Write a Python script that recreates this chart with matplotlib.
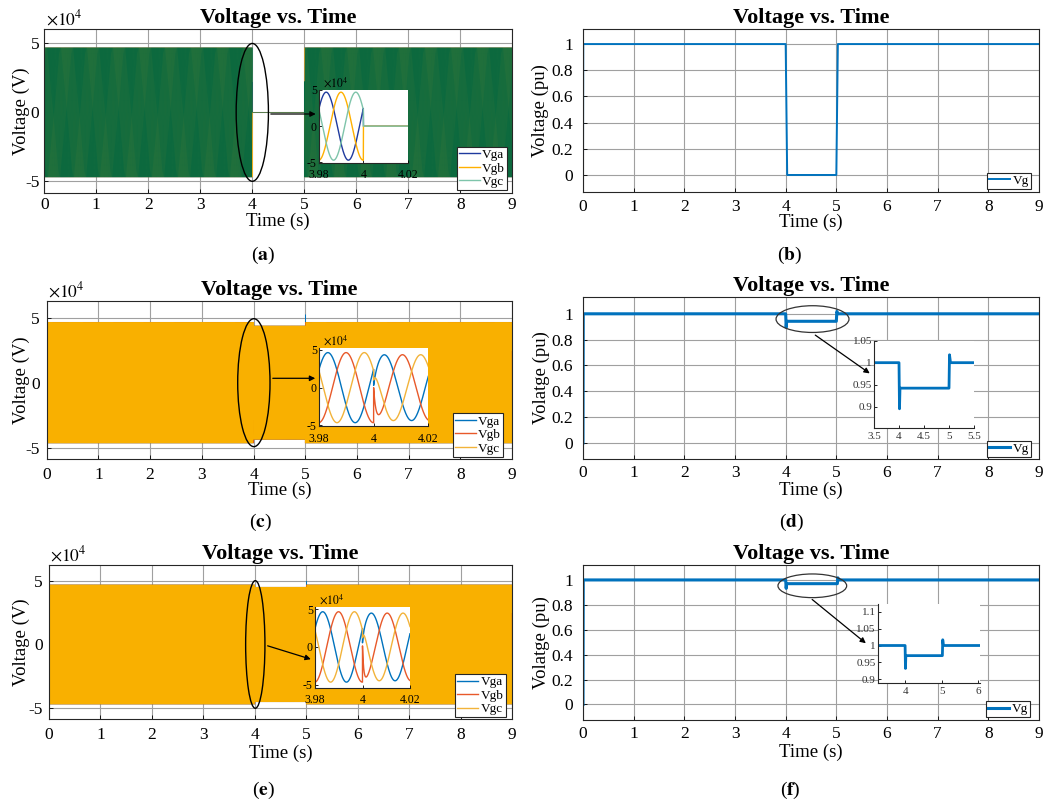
import numpy as np
import matplotlib
matplotlib.use("Agg")
import matplotlib.pyplot as plt
from matplotlib.patches import Ellipse, FancyArrowPatch
from matplotlib.ticker import FuncFormatter

plt.rcParams['font.family'] = ['Liberation Serif', 'DejaVu Serif']
plt.rcParams['mathtext.fontset'] = 'stix'
plt.rcParams['axes.unicode_minus'] = False

# ---- data ----
FREQ = 50.0            # Hz
FAULT_ON = 4.0         # s
FAULT_OFF = 5.0        # s
PHASE_A = 0.55         # rad, phase of Vga at t = 0

# peak voltage (V): [normal, during fault]
AMP_A = [4.7e4, 0.0]
AMP_C = [4.65e4, 4.37e4]
AMP_E = [4.68e4, 4.5e4]
# phase jump during the fault (rad)
SHIFT_C = -0.2
SHIFT_E = -0.15
# step on Vga, Vgb, Vgc right after the fault starts (V) and its decay (s)
JUMP_C = [-1.2e4, 4.3e4, -1.8e4]
JUMP_E = [-1.2e4, 4.6e4, -1.5e4]
TAU_C = 0.0008
TAU_E = 0.0005
# Vga overshoot when the fault clears (V)
KICK_C = 1.6e4
KICK_E = 0.8e4

# grid voltage magnitude (pu)
VG_B_T = [0, 0.005, 4.0, 4.03, 5.0, 5.03, 9.0]
VG_B_V = [0, 1.0, 1.0, 0.0, 0.0, 1.0, 1.0]
VG_D_T = [0, 0.005, 4.0, 4.01, 4.02, 5.0, 5.01, 5.03, 9.0]
VG_D_V = [0, 1.0, 1.0, 0.895, 0.942, 0.942, 1.018, 1.0, 1.0]
VG_F_T = [0, 0.005, 4.0, 4.01, 4.02, 5.02, 5.03, 5.05, 9.0]
VG_F_V = [0, 1.0, 1.0, 0.932, 0.97, 0.97, 1.017, 1.0, 1.0]

PHASES = ['Vga', 'Vgb', 'Vgc']


def three_phase(t, amp, shift=0.0, jump=(0, 0, 0), tau=1e-3, kick=0.0):
    inside = (t >= FAULT_ON) & (t < FAULT_OFF)
    d_on = np.clip(t - FAULT_ON, 0, None)
    d_off = np.clip(t - FAULT_OFF, 0, None)
    out = []
    for k, off in enumerate([0.0, -2 * np.pi / 3, 2 * np.pi / 3]):
        ph = 2 * np.pi * FREQ * t + PHASE_A + off
        v = np.where(inside, amp[1] * np.sin(ph + shift) + jump[k] * np.exp(-d_on / tau),
                     amp[0] * np.sin(ph))
        if k == 0:
            v = v + np.where(t >= FAULT_OFF, kick * np.exp(-d_off / 0.003), 0.0)
        out.append(v)
    return out


t_main = np.arange(0, 9.0, 1 / 5000.0)
t_zoom = np.linspace(3.98, 4.02, 4001)

W, H = 1047, 800
fig = plt.figure(figsize=(W / 100, H / 100), dpi=100)


def px_axes(left, top, right, bottom):
    return fig.add_axes([left / W, 1 - bottom / H, (right - left) / W, (bottom - top) / H])


def style_main(ax, xpad, ypad):
    ax.set_xlim(0, 9)
    ax.set_xticks(range(10))
    ax.grid(True, color='#a0a0a0', lw=0.8)
    ax.set_axisbelow(True)
    ax.tick_params(direction='in', length=3, width=0.6, labelsize=12.5)
    ax.tick_params(axis='x', pad=xpad)
    ax.tick_params(axis='y', pad=ypad)
    for s in ax.spines.values():
        s.set_color('#262626')
        s.set_linewidth(0.8)
    ax.set_title('Voltage vs. Time', fontsize=16, fontweight='bold', pad=4)


def style_inset(ax, xpad):
    ax.spines['top'].set_visible(False)
    ax.spines['right'].set_visible(False)
    for s in ax.spines.values():
        s.set_color('#262626')
        s.set_linewidth(0.8)
    ax.tick_params(direction='in', length=2, width=0.6, labelsize=8.5, pad=1.5)
    ax.tick_params(axis='x', pad=xpad)


def labels(ax, ylab, ylab_x, xlab_y):
    ax.set_xlabel('Time (s)', fontsize=13.5, va='center')
    ax.xaxis.set_label_coords(0.5, xlab_y)
    ax.set_ylabel(ylab, fontsize=13.5, va='center')
    ax.yaxis.set_label_coords(ylab_x, 0.5)


def add_legend(ax, handles, names, anchor):
    leg = ax.legend(handles, names, loc='lower right', bbox_to_anchor=anchor, fontsize=9.5,
                    fancybox=False, edgecolor='#262626', framealpha=1, borderpad=0.15,
                    labelspacing=0.1, handlelength=1.6, handletextpad=0.2, borderaxespad=0.0)
    leg.get_frame().set_linewidth(0.8)
    leg.set_zorder(20)


def arrow(x0, y0, x1, y1):
    fig.patches.append(FancyArrowPatch(
        (x0, H - y0), (x1, H - y1), transform=None, arrowstyle='-|>',
        mutation_scale=8, lw=0.9, color='black', zorder=30))


kv = FuncFormatter(lambda v, p: '{:g}'.format(v / 1e4))
pu = FuncFormatter(lambda v, p: '{:g}'.format(round(v, 3)))


def kv_panel(box, ylim, amp, colors, zoom_colors, inset_box, zoom_ylim, ell, arr,
             leg_anchor, pads, ylab_x, xlab_y, zoom_xpad, main_lw, **kw):
    ax = px_axes(*box)
    style_main(ax, *pads)
    for v, c in zip(three_phase(t_main, amp, **kw), colors):
        ax.plot(t_main, v, color=c, lw=main_lw)
    ax.set_ylim(*ylim)
    ax.set_yticks([-5e4, 0, 5e4])
    ax.yaxis.set_major_formatter(kv)
    labels(ax, 'Voltage (V)', ylab_x, xlab_y)
    ax.text(0.003, 1.0, r'$\times10^{4}$', transform=ax.transAxes, fontsize=12.5,
            ha='left', va='bottom')
    ax.add_patch(Ellipse(ell[:2], ell[2], ell[3], fill=False, ec='black', lw=1.0, zorder=10))
    arrow(*arr)

    ins = px_axes(*inset_box)
    style_inset(ins, zoom_xpad)
    handles = []
    for v, c in zip(three_phase(t_zoom, amp, **kw), zoom_colors):
        handles += ins.plot(t_zoom, v, color=c, lw=1.0)
    ins.set_xlim(3.98, 4.02)
    ins.set_ylim(*zoom_ylim)
    ins.set_xticks([3.98, 4.0, 4.02])
    ins.xaxis.set_major_formatter(FuncFormatter(lambda v, p: '{:g}'.format(round(v, 2))))
    ins.set_yticks([-5e4, 0, 5e4])
    ins.yaxis.set_major_formatter(kv)
    ins.text(0.04, 1.0, r'$\times10^{4}$', transform=ins.transAxes, fontsize=8.5,
             ha='left', va='bottom')
    add_legend(ax, handles, PHASES, leg_anchor)
    return ax, ins


def pu_panel(box, tt, vv, lw, ylab, ylim, leg_anchor, pads, ylab_x, xlab_y):
    ax = px_axes(*box)
    style_main(ax, *pads)
    line, = ax.plot(tt, vv, color='#0072BD', lw=lw)
    ax.set_ylim(*ylim)
    ax.set_yticks([0, 0.2, 0.4, 0.6, 0.8, 1.0])
    ax.yaxis.set_major_formatter(pu)
    labels(ax, ylab, ylab_x, xlab_y)
    add_legend(ax, [line], ['Vg'], leg_anchor)
    return ax


# (a)
kv_panel((44.3, 29, 512.3, 193), (-5.85e4, 6.05e4), AMP_A,
         ['#2a45a8', '#f5b01a', '#07683f'], ['#1f3a9e', '#ffb000', '#7ec4aa'],
         (319, 90, 407.7, 162.7), (-5.05e4, 4.95e4), (4.0, 0, 0.62, 1.0e5),
         (268, 114, 318.5, 114), (0.989, 0.018), (3, 3.5), -0.05, -0.172, 4.5, 0.35)

# (b)
pu_panel((583, 29, 1039, 192), VG_B_T, VG_B_V, 1.4, 'Voltage (pu)', (-0.13, 1.115),
         (0.982, 0.02), (5, 7), -0.094, -0.185)

# (c)
kv_panel((46.7, 301, 512, 459), (-5.87e4, 6.28e4), AMP_C,
         ['#0072BD', '#D95319', '#F9B000'], ['#0072BD', '#E8592A', '#F2B33A'],
         (319, 347.7, 428.3, 425.7), (-5.05e4, 5.3e4), (4.007, 0, 0.625, 9.84e4),
         (270, 378.3, 318, 378.3), (0.981, 0.015), (6, 5), -0.054, -0.2, 5, 0.4,
         shift=SHIFT_C, jump=JUMP_C, tau=TAU_C, kick=KICK_C)

# (d)
ax_d = pu_panel((583, 297, 1039, 459), VG_D_T, VG_D_V, 2.2, 'Volatge (pu)', (-0.124, 1.13),
                (0.982, 0.014), (4.5, 7), -0.092, -0.195)
ax_d.add_patch(Ellipse((4.53, 0.959), 1.44, 0.207, fill=False, ec='#333333', lw=0.9, zorder=10))
arrow(813, 333.5, 872, 375)
ins_d = px_axes(874, 340.7, 974, 427.7)
style_inset(ins_d, 3)
ins_d.plot(VG_D_T, VG_D_V, color='#0072BD', lw=2)
ins_d.set_xlim(3.5, 5.5)
ins_d.set_ylim(0.852, 1.05)
ins_d.set_xticks([3.5, 4, 4.5, 5, 5.5])
ins_d.set_yticks([0.9, 0.95, 1.0, 1.05])
ins_d.xaxis.set_major_formatter(pu)
ins_d.yaxis.set_major_formatter(pu)
ins_d.tick_params(labelsize=8, labelcolor='#333333')

# (e)
kv_panel((49, 565, 512, 719), (-5.84e4, 6.23e4), AMP_E,
         ['#0072BD', '#D95319', '#F9B000'], ['#0072BD', '#E8592A', '#F2B33A'],
         (315, 606.7, 410, 688.3), (-5.5e4, 5.35e4), (4.01, 0, 0.375, 1.0e5),
         (265, 645, 313.5, 660), (0.987, 0.011), (6, 4.5), -0.059, -0.22, 4, 0.4,
         shift=SHIFT_E, jump=JUMP_E, tau=TAU_E, kick=KICK_E)

# (f)
ax_f = pu_panel((583, 565, 1039, 720), VG_F_T, VG_F_V, 2.2, 'Volatge (pu)', (-0.125, 1.12),
                (0.98, 0.017), (4.5, 7), -0.092, -0.206)
ax_f.add_patch(Ellipse((4.526, 0.953), 1.356, 0.19, fill=False, ec='#333333', lw=0.9, zorder=10))
arrow(810, 597.7, 868, 645)
ins_f = px_axes(877.7, 604, 980, 683.3)
style_inset(ins_f, 3)
ins_f.plot(VG_F_T, VG_F_V, color='#0072BD', lw=2)
ins_f.set_xlim(3.25, 6.05)
ins_f.set_ylim(0.888, 1.123)
ins_f.set_xticks([4, 5, 6])
ins_f.set_yticks([0.9, 0.95, 1.0, 1.05, 1.1])
ins_f.xaxis.set_major_formatter(pu)
ins_f.yaxis.set_major_formatter(pu)
ins_f.tick_params(labelsize=8, labelcolor='#333333')

# captions
for letter, x, y in [('a', 263, 255), ('b', 790, 255), ('c', 260, 522),
                     ('d', 792, 522), ('e', 263, 790), ('f', 790, 790)]:
    fig.text(x / W, 1 - y / H, r'($\mathbf{' + letter + '}$)', ha='center', va='center',
             fontsize=14)

fig.savefig('out.png', dpi=100)
